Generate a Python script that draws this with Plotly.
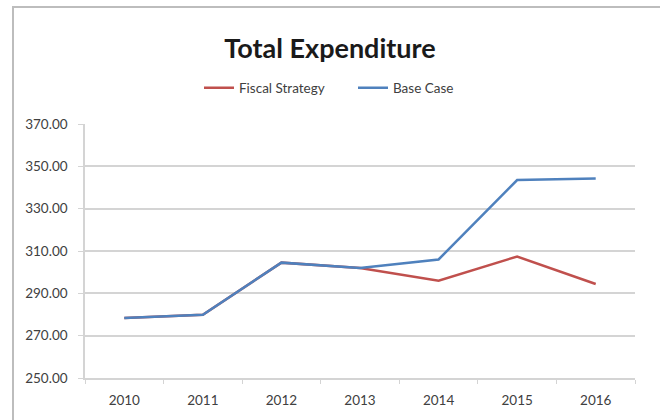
import plotly.graph_objects as go

# Data
years = ["2010", "2011", "2012", "2013", "2014", "2015", "2016"]
fiscal_strategy = [278.3, 279.9, 304.5, 302.0, 296.0, 307.4, 294.4]
base_case = [278.3, 279.9, 304.5, 302.0, 306.0, 343.5, 344.3]
y_ticks = [250, 270, 290, 310, 330, 350, 370]

FONT = "Lato"
GRID = "#D4D4D4"
TEXT = "#404040"

fig = go.Figure()
fig.add_trace(go.Scatter(
    x=years, y=fiscal_strategy, name="Fiscal Strategy", mode="lines",
    line=dict(color="#C0504D", width=2.5),
))
fig.add_trace(go.Scatter(
    x=years, y=base_case, name="Base Case", mode="lines",
    line=dict(color="#4F81BD", width=2.5),
))

# chart frame: left and top edges only
fx0, fx1 = (13 - 85) / 550, 1.3
fy0, fy1 = -0.5, (378 - 7) / 254
frame_path = f"M {fx0},{fy0} L {fx0},{fy1} L {fx1},{fy1}"

fig.update_layout(
    width=660, height=420,
    margin=dict(l=85, r=25, t=124, b=42),
    paper_bgcolor="white", plot_bgcolor="white",
    font=dict(family=FONT, size=13, color=TEXT),
    title=dict(text="<b>Total Expenditure</b>", x=0.5, xanchor="center",
               y=1 - 49 / 420, yanchor="middle",
               font=dict(family=FONT, size=27, color="#1a1a1a")),
    legend=dict(orientation="h", x=(353 - 85) / 550, xanchor="center",
                y=(378 - 88) / 254, yanchor="middle",
                font=dict(family=FONT, size=13.5, color=TEXT),
                itemwidth=30, entrywidth=109, bgcolor="rgba(0,0,0,0)"),
    showlegend=True,
    shapes=[dict(type="path", xref="paper", yref="paper", path=frame_path,
                 line=dict(color="#BDBDBD", width=2), layer="below")],
)

fig.update_xaxes(
    type="category", range=[-0.5, 6.5], showgrid=False,
    showline=True, linecolor=GRID, linewidth=1.5,
    ticks="outside", tickson="boundaries", ticklen=4, tickcolor=GRID,
    ticklabelstandoff=9,
    tickfont=dict(family=FONT, size=13.5, color=TEXT),
)
fig.update_yaxes(
    range=[250, 370], tickvals=y_ticks, tickformat=".2f",
    showgrid=True, gridcolor=GRID, gridwidth=1.5,
    showline=True, linecolor=GRID, linewidth=1.5,
    ticks="outside", ticklen=5, tickcolor=GRID, zeroline=False,
    ticklabelstandoff=8,
    tickfont=dict(family=FONT, size=13.5, color=TEXT),
)

fig.write_html("out.html")
